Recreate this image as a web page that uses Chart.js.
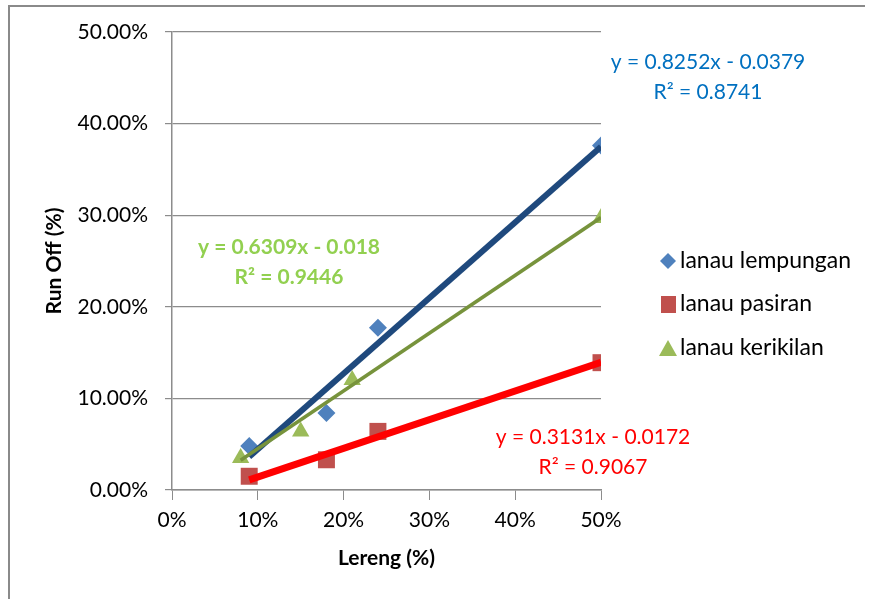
<!DOCTYPE html>
<html lang="id">
<head>
<meta charset="UTF-8">
<title>Run Off vs Lereng</title>
<script src="https://cdn.jsdelivr.net/npm/chart.js"></script>
<style>
  html, body { margin: 0; padding: 0; background: #fff; }
  #wrap { position: relative; width: 869px; height: 599px; overflow: hidden; }
  #frame { position: absolute; left: 8px; top: 5px; width: 855px; height: 620px;
           border-left: 2px solid #8a8a8a; border-top: 2px solid #8a8a8a; }
  canvas { position: absolute; left: 0; top: 0; }
</style>
</head>
<body>
<div id="wrap">
  <div id="frame"></div>
  <canvas id="chart" width="869" height="599"></canvas>
</div>
<script>
// data (fractions: 0.1 = 10%)
const seriesNames = ['lanau lempungan', 'lanau pasiran', 'lanau kerikilan'];
const lerengLempungan = [0.09, 0.18, 0.24, 0.50];
const runoffLempungan = [0.048, 0.084, 0.177, 0.376];
const lerengPasiran = [0.09, 0.18, 0.24, 0.50];
const runoffPasiran = [0.015, 0.033, 0.064, 0.139];
const lerengKerikilan = [0.08, 0.15, 0.21, 0.50];
const runoffKerikilan = [0.035, 0.064, 0.120, 0.297];

// trendline coefficients as printed on the chart
const slopes = [0.8252, 0.3131, 0.6309];
const intercepts = [-0.0379, -0.0172, -0.018];
const r2Values = ['0.8741', '0.9067', '0.9446'];

const xTicks = [0, 0.1, 0.2, 0.3, 0.4, 0.5];
const yTicks = [0, 0.1, 0.2, 0.3, 0.4, 0.5];

const FONT = 'Lato, "Open Sans", sans-serif';
const markerColors = ['#4F81BD', '#C0504D', '#9BBB59'];
const trendColors = ['#1F497D', '#FF0000', '#77933C'];
const pointStyles = ['rectRot', 'rect', 'triangle'];

const xs = [lerengLempungan, lerengPasiran, lerengKerikilan];
const ys = [runoffLempungan, runoffPasiran, runoffKerikilan];

function pts(x, y) { return x.map((v, i) => ({ x: v, y: y[i] })); }
function trend(i) {
  const lo = Math.min(...xs[i]), hi = Math.max(...xs[i]);
  return [lo, hi].map(x => ({ x: x, y: slopes[i] * x + intercepts[i] }));
}

const datasets = [];
[0, 1, 2].forEach(i => {
  datasets.push({
    label: seriesNames[i],
    data: pts(xs[i], ys[i]),
    pointStyle: pointStyles[i],
    pointRadius: [9, 12, 10][i],
    backgroundColor: markerColors[i],
    borderColor: markerColors[i],
    borderWidth: 0,
    order: 2
  });
});
[0, 1, 2].forEach(i => {
  datasets.push({
    label: 'trend ' + seriesNames[i],
    data: trend(i),
    showLine: true,
    pointRadius: 0,
    borderColor: trendColors[i],
    borderWidth: [6, 7, 3.5][i],
    order: [1, 0, 0.5][i]
  });
});

const equations = [
  { i: 0, x: 708, y: 62, color: '#0070C0', bold: false },
  { i: 1, x: 593, y: 437, color: '#FF0000', bold: false },
  { i: 2, x: 289, y: 247, color: '#92D050', bold: true }
];

const overlay = {
  id: 'overlay',
  afterDraw(chart) {
    const ctx = chart.ctx;
    ctx.save();
    ctx.textBaseline = 'middle';
    // equations
    equations.forEach(e => {
      const b = intercepts[e.i];
      const line1 = 'y = ' + slopes[e.i] + 'x ' + (b < 0 ? '- ' : '+ ') + Math.abs(b);
      const line2 = 'R\u00B2 = ' + r2Values[e.i];
      ctx.font = (e.bold ? 'bold ' : '') + '21px ' + FONT;
      ctx.fillStyle = e.color;
      ctx.textAlign = 'center';
      ctx.fillText(line1, e.x, e.y);
      ctx.fillText(line2, e.x, e.y + 30);
    });
    // legend
    const ly = [261, 304, 348];
    ctx.textAlign = 'left';
    ctx.font = '23px ' + FONT;
    [0, 1, 2].forEach(i => {
      const cx = 668, cy = ly[i];
      ctx.fillStyle = markerColors[i];
      ctx.beginPath();
      if (i === 0) {
        ctx.moveTo(cx, cy - 8); ctx.lineTo(cx + 8, cy); ctx.lineTo(cx, cy + 8); ctx.lineTo(cx - 8, cy);
      } else if (i === 1) {
        ctx.rect(cx - 7, cy - 8, 15, 17);
      } else {
        ctx.moveTo(cx, cy - 8); ctx.lineTo(cx + 9, cy + 8); ctx.lineTo(cx - 9, cy + 8);
      }
      ctx.closePath();
      ctx.fill();
      ctx.fillStyle = '#000';
      ctx.fillText(seriesNames[i], 680, cy);
    });
    ctx.restore();
  }
};

new Chart(document.getElementById('chart'), {
  type: 'scatter',
  data: { datasets: datasets },
  options: {
    responsive: false,
    animation: false,
    layout: { padding: { left: 42, right: 268, top: 32, bottom: 28 } },
    plugins: { legend: { display: false }, tooltip: { enabled: false } },
    scales: {
      x: {
        type: 'linear', min: 0, max: 0.5,
        afterBuildTicks: s => { s.ticks = xTicks.map(v => ({ value: v })); },
        afterFit: s => { s.height = 81; },
        ticks: { callback: v => Math.round(v * 100) + '%', color: '#000', padding: 8,
                 font: { family: FONT, size: 21 } },
        grid: { drawOnChartArea: false, tickLength: 10, color: '#8c8c8c' },
        border: { color: '#8c8c8c', width: 1.5 },
        title: { display: true, text: 'Lereng (%)', color: '#000', padding: 0,
                 font: { family: FONT, size: 21, weight: 'bold' } }
      },
      y: {
        type: 'linear', min: 0, max: 0.5,
        afterBuildTicks: s => { s.ticks = yTicks.map(v => ({ value: v })); },
        afterFit: s => { s.width = 130; },
        ticks: { callback: v => (v * 100).toFixed(2) + '%', color: '#000', padding: 17,
                 font: { family: FONT, size: 21 } },
        grid: { tickLength: 7, color: '#8c8c8c', lineWidth: 1.2 },
        border: { color: '#8c8c8c', width: 1.5 },
        title: { display: true, text: 'Run Off (%)', color: '#000', padding: 0,
                 font: { family: FONT, size: 21, weight: 'bold' } }
      }
    }
  },
  plugins: [overlay]
});
</script>
</body>
</html>
